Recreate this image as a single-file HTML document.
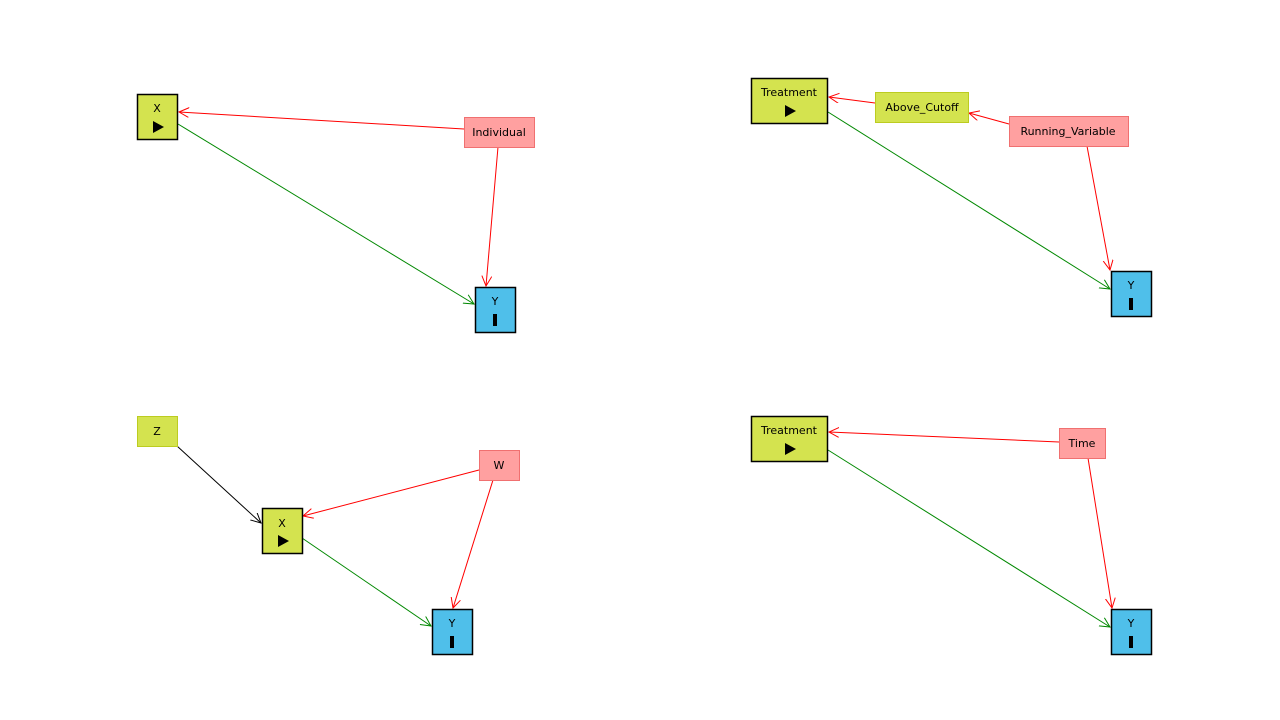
<!DOCTYPE html>
<html><head><style>body{margin:0;background:#fff}svg{display:block}text{font-family:"DejaVu Sans","Liberation Sans",sans-serif;font-size:11px;text-anchor:middle}</style></head><body>
<svg width="1280" height="720" viewBox="0 0 1280 720" xmlns="http://www.w3.org/2000/svg">
<defs>
<marker id="r" markerWidth="12" markerHeight="12" refX="10" refY="5" orient="auto" markerUnits="userSpaceOnUse"><path d="M0,0 L10,5 L0,10" fill="none" stroke="#f00" stroke-width="1"/></marker>
<marker id="g" markerWidth="12" markerHeight="12" refX="10" refY="5" orient="auto" markerUnits="userSpaceOnUse"><path d="M0,0 L10,5 L0,10" fill="none" stroke="#080" stroke-width="1"/></marker>
<marker id="k" markerWidth="12" markerHeight="12" refX="10" refY="5" orient="auto" markerUnits="userSpaceOnUse"><path d="M0,0 L10,5 L0,10" fill="none" stroke="#000" stroke-width="1"/></marker>
</defs>
<g stroke-width="1" fill="none">
<line x1="464" y1="129" x2="179" y2="112" stroke="#f00" marker-end="url(#r)"/>
<line x1="498" y1="147" x2="486" y2="286" stroke="#f00" marker-end="url(#r)"/>
<line x1="178" y1="124" x2="474" y2="304" stroke="#080" marker-end="url(#g)"/>
<line x1="875" y1="103" x2="829" y2="97" stroke="#f00" marker-end="url(#r)"/>
<line x1="1009" y1="124" x2="969" y2="113" stroke="#f00" marker-end="url(#r)"/>
<line x1="1087" y1="146" x2="1110" y2="270" stroke="#f00" marker-end="url(#r)"/>
<line x1="828" y1="112" x2="1110" y2="289" stroke="#080" marker-end="url(#g)"/>
<line x1="177" y1="446" x2="261" y2="523" stroke="#000" marker-end="url(#k)"/>
<line x1="479" y1="470" x2="303" y2="516" stroke="#f00" marker-end="url(#r)"/>
<line x1="493" y1="480" x2="453" y2="608" stroke="#f00" marker-end="url(#r)"/>
<line x1="302" y1="538" x2="431" y2="626" stroke="#080" marker-end="url(#g)"/>
<line x1="1059" y1="442" x2="829" y2="432" stroke="#f00" marker-end="url(#r)"/>
<line x1="1088" y1="458" x2="1112" y2="608" stroke="#f00" marker-end="url(#r)"/>
<line x1="828" y1="450" x2="1110" y2="627" stroke="#080" marker-end="url(#g)"/>
</g>
<g stroke-width="1">
<rect x="137.5" y="94.5" width="40" height="45" fill="#d4e34f" stroke="#000" stroke-width="1.5"/>
<rect x="464.5" y="117.5" width="70" height="30" fill="#ffa0a0" stroke="#f07070"/>
<rect x="475.5" y="287.5" width="40" height="45" fill="#4fbfea" stroke="#000" stroke-width="1.5"/>
<rect x="751.5" y="78.5" width="76" height="45" fill="#d4e34f" stroke="#000" stroke-width="1.5"/>
<rect x="875.5" y="92.5" width="93" height="30" fill="#d4e34f" stroke="#bccc20"/>
<rect x="1009.5" y="116.5" width="119" height="30" fill="#ffa0a0" stroke="#f07070"/>
<rect x="1111.5" y="271.5" width="40" height="45" fill="#4fbfea" stroke="#000" stroke-width="1.5"/>
<rect x="137.5" y="416.5" width="40" height="30" fill="#d4e34f" stroke="#bccc20"/>
<rect x="479.5" y="450.5" width="40" height="30" fill="#ffa0a0" stroke="#f07070"/>
<rect x="262.5" y="508.5" width="40" height="45" fill="#d4e34f" stroke="#000" stroke-width="1.5"/>
<rect x="432.5" y="609.5" width="40" height="45" fill="#4fbfea" stroke="#000" stroke-width="1.5"/>
<rect x="751.5" y="416.5" width="76" height="45" fill="#d4e34f" stroke="#000" stroke-width="1.5"/>
<rect x="1059.5" y="428.5" width="46" height="30" fill="#ffa0a0" stroke="#f07070"/>
<rect x="1111.5" y="609.5" width="40" height="45" fill="#4fbfea" stroke="#000" stroke-width="1.5"/>
</g>
<g fill="#000">
<text x="157" y="112">X</text><path d="M153,121 L164,127 L153,133Z"/>
<text x="499" y="136">Individual</text>
<text x="495" y="305">Y</text><rect x="493" y="314" width="4" height="12"/>
<text x="789" y="96">Treatment</text><path d="M785,105 L796,111 L785,117Z"/>
<text x="922" y="111">Above_Cutoff</text>
<text x="1068" y="135">Running_Variable</text>
<text x="1131" y="289">Y</text><rect x="1129" y="298" width="4" height="12"/>
<text x="157" y="435">Z</text>
<text x="499" y="469">W</text>
<text x="282" y="527">X</text><path d="M278,535 L289,541 L278,547Z"/>
<text x="452" y="627">Y</text><rect x="450" y="636" width="4" height="12"/>
<text x="789" y="434">Treatment</text><path d="M785,443 L796,449 L785,455Z"/>
<text x="1082" y="447">Time</text>
<text x="1131" y="627">Y</text><rect x="1129" y="636" width="4" height="12"/>
</g>
</svg>
</body></html>
